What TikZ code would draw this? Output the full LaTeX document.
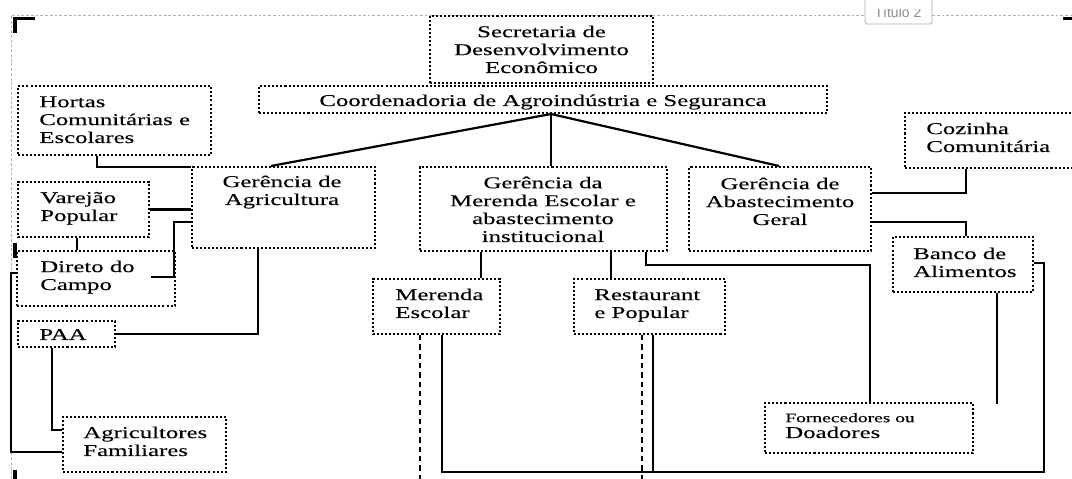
\documentclass[tikz,border=0pt]{standalone}
\usepackage{fontspec}
\setmainfont{Liberation Serif}[FakeStretch=1.5, FakeBold=0.25]
\newfontfamily\tabfont{Liberation Sans}
\definecolor{framegray}{HTML}{A3B2CC}
\definecolor{tabgray}{HTML}{8C8C8C}
\usetikzlibrary{calc, fit}
\tikzset{
  dotbox/.style={draw, line width=1.15pt, dash pattern=on 1.15pt off 1.15pt, inner sep=0pt, fit={#1}},
  link/.style={line width=1.25pt},
  dashlink/.style={line width=1.25pt, dash pattern=on 3pt off 2.3pt},
  txt/.style={inner sep=0pt, align=left, anchor=base west},
  ctxt/.style={inner sep=0pt, align=center, anchor=base},
  cornermark/.style={line width=2.2pt}
}

\begin{document}
\begin{tikzpicture}[x=0.02cm, y=-0.02cm, font=\fontsize{9.4}{10.2}\selectfont]
  \useasboundingbox (0,0) rectangle (1072,479);

  % page frame
  \draw[framegray, line width=0.5pt, dash pattern=on 1.6pt off 1.1pt] (11,479) -- (11,15) -- (1072,15);
  \fill[white] (865,-3) rectangle (932,24);
  \draw[tabgray!70, line width=0.5pt, rounded corners=1pt] (865,-3) -- (865,24) -- (932,24) -- (932,-3);
  \begin{scope}
    \clip (866,10) rectangle (931,23);
    \node[inner sep=0pt, anchor=base, text=tabgray, font=\tabfont\fontsize{8}{9}\selectfont] (tab) at (898,18) {Título 2};
  \end{scope}
  \draw[cornermark] (15,33) -- (15,18.5) -- (35,18.5);
  \draw[cornermark] (1063,18.5) -- (1072,18.5);
  \draw[cornermark] (15,243) -- (15,258);
  \draw[cornermark] (15,470) -- (15,479);

  % boxes (text nodes sit on their last baseline)
  \node[dotbox={(430,16) (653,83)}] (sec) {};
  \node[ctxt] (sectxt) at (541.5,73) {Secretaria de\\Desenvolvimento\\Econômico};
  \node[dotbox={(259,86) (827,113)}] (coord) {};
  \node[ctxt] (coordtxt) at (543,106) {Coordenadoria de Agroindústria e Seguranca};
  \node[dotbox={(18,86) (211,155)}] (hortas) {};
  \node[txt] (hortastxt) at (39,143) {Hortas\\Comunitárias e\\Escolares};
  \node[dotbox={(192,167) (375,248)}] (agr) {};
  \node[ctxt] (agrtxt) at (282,205) {Gerência de\\Agricultura};
  \node[dotbox={(420,167) (667,251)}] (gmer) {};
  \node[ctxt] (gmertxt) at (543,242) {Gerência da\\Merenda Escolar e\\abastecimento\\institucional};
  \node[dotbox={(689,167) (871,251)}] (gabs) {};
  \node[ctxt] (gabstxt) at (780,225) {Gerência de\\Abastecimento\\Geral};
  \node[dotbox={(905,113) (1090,168)}] (coz) {};
  \node[txt] (coztxt) at (926,152) {Cozinha\\Comunitária};
  \node[dotbox={(18,182) (149,237)}] (varejao) {};
  \node[txt] (varejaotxt) at (40,221) {Varejão\\Popular};
  \node[dotbox={(17,251) (175,306)}] (direto) {};
  \node[txt] (diretotxt) at (40,290) {Direto do\\Campo};
  \node[dotbox={(18,321) (115,347)}] (paa) {};
  \node[txt] (paatxt) at (39,340) {PAA};
  \node[dotbox={(63,417) (226,472)}] (agri) {};
  \node[txt] (agritxt) at (83,456) {Agricultores\\Familiares};
  \node[dotbox={(373,279) (500,334)}] (mesc) {};
  \node[txt] (mesctxt) at (395,318) {Merenda\\Escolar};
  \node[dotbox={(574,279) (725,334)}] (rest) {};
  \node[txt] (resttxt) at (594,318) {Restaurant\\e Popular};
  \node[dotbox={(893,237) (1033,292)}] (banco) {};
  \node[txt] (bancotxt) at (913,277) {Banco de\\Alimentos};
  \node[dotbox={(765,403) (973,453)}] (forn) {};
  \node[txt] (forntxt) at (785,438) {{\fontsize{7.4}{9}\selectfont Fornecedores ou}\\[-1.2pt]Doadores};

  % connectors
  \coordinate (hub) at ($(coord.south west)+(293,0)$);
  \draw[link] (hub) -- ($(agr.north west)+(80,0)$);
  \draw[link] (hub) -- (hub |- gmer.north);
  \draw[link] (hub) -- ($(gabs.north west)+(91,0)$);
  \draw[link] ($(hortas.south west)+(80,0)$) |- ($(agr.north west)+(0,1)$);
  \draw[link] (varejao.east) -- (varejao.east -| agr.west);
  \draw[link] ($(agr.north west)+(0,56)$) -| ($(direto.north east)+(-2,27)$) -- ($(direto.north east)+(-25,27)$);
  \draw[link] ($(varejao.south west)+(60,0)$) -- ($(direto.north west)+(61,0)$);
  \draw[link] ($(agr.south west)+(67,0)$) |- (paa.east);
  \draw[link] ($(paa.south west)+(35,0)$) |- ($(agri.north west)+(0,14)$);
  \draw[link] ($(direto.north west)+(0,23)$) -- ++(-5,0) |- ($(agri.north west)+(0,36)$);
  \draw[link] ($(gmer.south west)+(62,0)$) -- ($(mesc.north west)+(109,0)$);
  \draw[link] ($(gmer.south west)+(192,0)$) -- ($(rest.north west)+(38,0)$);
  \draw[link] ($(gmer.south west)+(227,0)$) -- ++(0,13) -| ($(forn.north west)+(106,0)$);
  \draw[link] ($(gabs.north east)+(0,27)$) -| ($(coz.south west)+(62,0)$);
  \draw[link] ($(gabs.north east)+(0,56)$) -| ($(banco.north west)+(74,0)$);
  \draw[link] ($(banco.north east)+(0,27)$) -- ++(10,0) |- ($(mesc.south west)+(70,137)$) -- ($(mesc.south west)+(70,0)$);
  \draw[link] ($(rest.south west)+(80,0)$) -- ++(0,137);
  \draw[link] ($(banco.south west)+(105,0)$) -- ++(0,111);
  \draw[dashlink] ($(mesc.south west)+(48,0)$) -- ++(0,150);
  \draw[dashlink] ($(rest.south west)+(69,0)$) -- ++(0,150);
\end{tikzpicture}
\end{document}
